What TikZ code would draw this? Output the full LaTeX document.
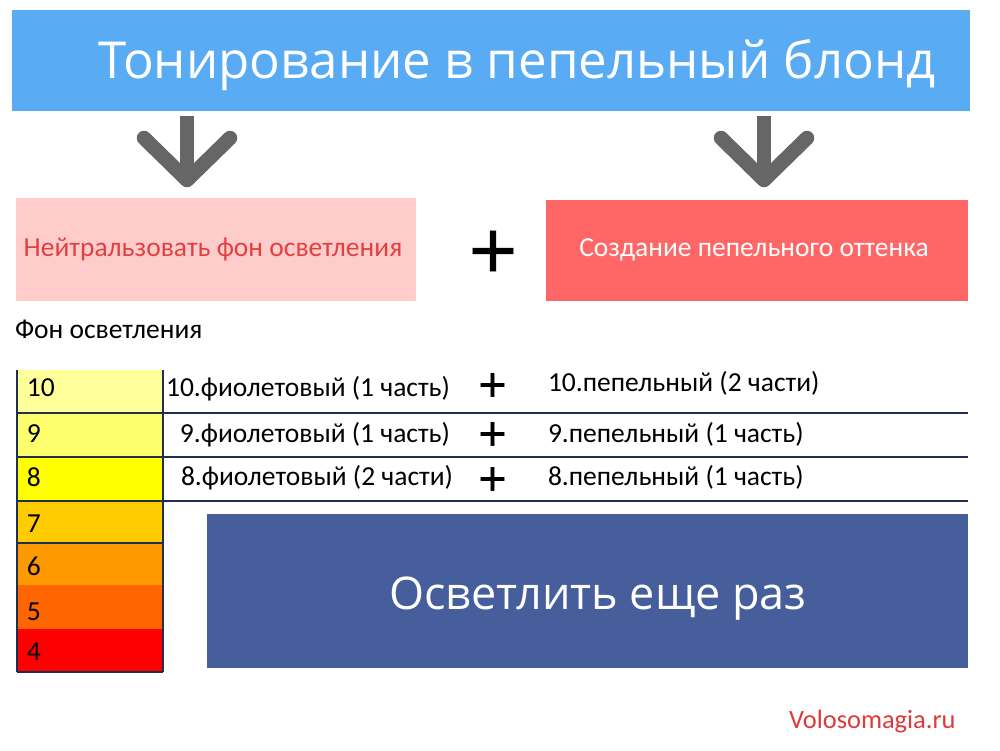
\documentclass[tikz,border=0pt]{standalone}
\usepackage{fontspec}
\setmainfont{Carlito}
\newfontfamily\osans{Open Sans}
\newfontfamily\djvbig[FakeBold=1.3]{DejaVu Sans}
\newfontfamily\djvsmall[FakeBold=1.9]{DejaVu Sans}
\definecolor{titleblue}{RGB}{89,172,244}
\definecolor{pinkbox}{RGB}{255,204,204}
\definecolor{pinktext}{RGB}{226,64,64}
\definecolor{redbox}{RGB}{255,102,102}
\definecolor{navybox}{RGB}{70,94,156}
\definecolor{arrowgray}{RGB}{102,102,102}
\definecolor{rule}{RGB}{31,47,79}
\definecolor{siteRed}{RGB}{222,58,58}
\definecolor{cten}{RGB}{255,255,153}
\definecolor{cnine}{RGB}{255,255,110}
\definecolor{ceight}{RGB}{255,255,0}
\definecolor{cseven}{RGB}{255,204,0}
\definecolor{csix}{RGB}{255,153,0}
\definecolor{cfive}{RGB}{255,102,0}
\definecolor{cfour}{RGB}{255,0,0}
\tikzset{
  panel/.style={inner sep=0pt, outer sep=0pt, anchor=north west, draw=none},
  cell/.style={panel, minimum width=146pt},
  lbl/.style={inner sep=0pt, outer sep=0pt, font=\fontsize{27.5}{32}\selectfont},
  plusbig/.style={inner sep=0pt, font=\djvbig\fontsize{64}{70}\selectfont},
  plussmall/.style={inner sep=0pt, font=\djvsmall\fontsize{37}{42}\selectfont},
  downarrow/.style={draw=arrowgray, line width=14.5pt, line cap=round, line join=round},
  tableline/.style={draw=rule, line width=2.5pt}
}
\begin{document}
\begin{tikzpicture}[x=1pt,y=-1pt]
\useasboundingbox (0,0) rectangle (1000,750);
\fill[white] (0,0) rectangle (1000,750);
% title
\node[panel, fill=titleblue, minimum width=958pt, minimum height=101pt] (title) at (12,10) {};
\node[inner sep=0pt, anchor=base, text=white, font=\osans\fontsize{51}{58}\selectfont] (titletext) at (517,78) {Тонирование в пепельный блонд};
% arrows
\coordinate (la0) at (187,116);
\coordinate (latip) at (187,180);
\coordinate (lal) at (144,138);
\coordinate (lar) at (230,138);
\coordinate (ra0) at (764,116);
\coordinate (ratip) at (764,180);
\coordinate (ral) at (721,138);
\coordinate (rar) at (807,138);
\draw[downarrow, line cap=butt] (la0) -- (latip);
\draw[downarrow] (lal) -- (latip) -- (lar);
\draw[downarrow, line cap=butt] (ra0) -- (ratip);
\draw[downarrow] (ral) -- (ratip) -- (rar);
% two boxes
\node[panel, fill=pinkbox, minimum width=400pt, minimum height=103pt] (neutral) at (16,198) {};
\node[lbl, anchor=base, text=pinktext] (neutraltext) at (213,256) {Нейтральзовать фон осветления};
\node[plusbig] (bigplus) at (493,251) {+};
\node[panel, fill=redbox, minimum width=422pt, minimum height=101pt] (ash) at (546,200) {};
\node[lbl, anchor=base, text=white] (ashtext) at (754,256) {Создание пепельного оттенка};
% caption
\node[lbl, anchor=base west] (caption) at (15,338) {Фон осветления};
% colour column
\node[cell, fill=cten, minimum height=43pt] (c10) at (17,370) {};
\node[cell, fill=cnine, minimum height=44pt] (c9) at (17,413) {};
\node[cell, fill=ceight, minimum height=44pt] (c8) at (17,457) {};
\node[cell, fill=cseven, minimum height=42pt] (c7) at (17,501) {};
\node[cell, fill=csix, minimum height=42pt] (c6) at (17,543) {};
\node[cell, fill=cfive, minimum height=44pt] (c5) at (17,585) {};
\node[cell, fill=cfour, minimum height=43pt] (c4) at (17,629) {};
\node[lbl, anchor=base west] (n10) at (27,396) {10};
\node[lbl, anchor=base west] (n9) at (27,442) {9};
\node[lbl, anchor=base west] (n8) at (27,486) {8};
\node[lbl, anchor=base west] (n7) at (27,532) {7};
\node[lbl, anchor=base west] (n6) at (27,575) {6};
\node[lbl, anchor=base west] (n5) at (27,620) {5};
\node[lbl, anchor=base west] (n4) at (27,660) {4};
% table rules
\coordinate (tl) at (17,370);
\coordinate (bl) at (17,672);
\coordinate (tr) at (163,370);
\coordinate (br) at (163,672);
\coordinate (rowendA) at (968,413);
\coordinate (rowendB) at (968,457);
\coordinate (rowendC) at (968,501);
\draw[tableline] (tl) -- (bl);
\draw[tableline] (tr) -- (br);
\draw[tableline] (c9.north west) -- (rowendA);
\draw[tableline] (c8.north west) -- (rowendB);
\draw[tableline] (c7.north west) -- (rowendC);
\draw[tableline] (c6.north west) -- (c6.north east);
\draw[tableline] (c4.south west) -- (c4.south east);
% violet column
\node[lbl, anchor=base east] (v10) at (450,396) {10.фиолетовый (1 часть)};
\node[lbl, anchor=base east] (v9) at (450,442) {9.фиолетовый (1 часть)};
\node[lbl, anchor=base east] (v8) at (453,485) {8.фиолетовый (2 части)};
\node[plussmall] (p10) at (492.5,385) {+};
\node[plussmall] (p9) at (492.5,434) {+};
\node[plussmall] (p8) at (492.5,479) {+};
\node[lbl, anchor=base west] (a10) at (548,391) {10.пепельный (2 части)};
\node[lbl, anchor=base west] (a9) at (548,442) {9.пепельный (1 часть)};
\node[lbl, anchor=base west] (a8) at (548,485) {8.пепельный (1 часть)};
% again box
\node[panel, fill=navybox, minimum width=761pt, minimum height=154pt] (again) at (207,514) {};
\node[inner sep=0pt, anchor=base, text=white, font=\osans\fontsize{45}{50}\selectfont] (againtext) at (598,609) {Осветлить еще раз};
% site
\node[lbl, anchor=base west, text=siteRed, font=\fontsize{26.4}{30}\selectfont] (site) at (789,728) {Volosomagia.ru};
\end{tikzpicture}
\end{document}
